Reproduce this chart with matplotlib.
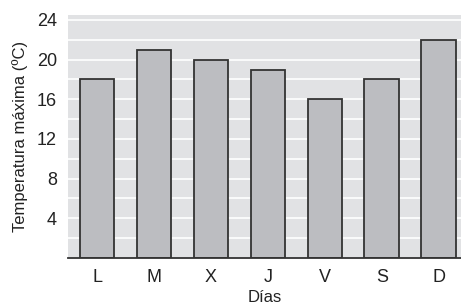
import matplotlib
matplotlib.use('Agg')
import matplotlib.pyplot as plt

# datos
dias = ['L', 'M', 'X', 'J', 'V', 'S', 'D']
temp_max = [18, 21, 20, 19, 16, 18, 22]
yticks = [4, 8, 12, 16, 20, 24]

plt.rcParams['font.family'] = ['Liberation Sans', 'DejaVu Sans']

fig = plt.figure(figsize=(4.61, 3.06), dpi=100)
ax = fig.add_axes([68 / 461, 1 - 258 / 306, 393 / 461, 243 / 306])
ax.set_facecolor('#e1e2e4')

# líneas de cuadrícula cada 2 grados
for y in range(2, 25, 2):
    ax.axhline(y, color='white', lw=1.2, zorder=1)

x = range(len(dias))
ax.bar(x, temp_max, width=0.61, color='#bcbdc1', edgecolor='#333333',
       linewidth=1.3, zorder=2)

ax.set_xlim(-0.51, 6.39)
ax.set_ylim(0, 24.5)
ax.set_xticks(list(x))
ax.set_xticklabels(dias, fontsize=13)
ax.set_yticks(yticks)
ax.set_yticklabels([str(v) for v in yticks], fontsize=13)
ax.tick_params(length=0, pad=8, colors='#222222')

for s in ['top', 'right', 'left']:
    ax.spines[s].set_visible(False)
ax.spines['bottom'].set_color('#333333')
ax.spines['bottom'].set_linewidth(1.3)

ax.set_xlabel('Días', fontsize=12, color='#222222', labelpad=3)
ax.set_ylabel('Temperatura máxima (ºC)', fontsize=12, color='#222222', labelpad=6)

fig.savefig('out.png', dpi=100)
